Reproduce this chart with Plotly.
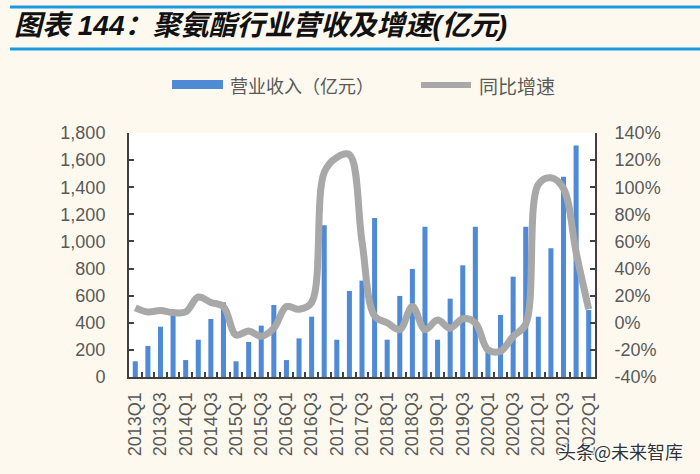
import plotly.graph_objects as go

# ---- data ----
quarters = [f"{y}Q{q}" for y in range(2013, 2022) for q in range(1, 5)] + ["2022Q1"]
revenue = [116, 229, 371, 489, 125, 275, 428, 551, 116, 258, 379, 531,
           125, 285, 445, 1119, 275, 635, 711, 1173, 275, 598, 797, 1109,
           275, 578, 824, 1109, 220, 458, 740, 1109, 445, 950, 1478, 1707, 494]
growth = [11, 8, 9, 7.5, 8, 19, 15, 12, -9, -6, -10, -4,
          12, 10, 15, 111, 122, 124, 60, 5, 0, -5, 12, -5,
          2, -4, 3, 0, -20, -21, -10, -1, 102, 107, 99, 52, 10]
left_ticks = list(range(0, 1801, 200))
right_ticks = list(range(-40, 141, 20))
right_tick_labels = [f"{v}%" for v in right_ticks]
tick_labels = quarters[::2]

title_text = "图表 144：聚氨酯行业营收及增速(亿元)"
legend_bar = "营业收入（亿元）"
legend_line = "同比增速"
watermark = "头条@未来智库"

# ---- styling ----
W, H = 700, 474
L, R, T, B = 129, 105, 133, 97
BAR_C = "#4F8AD6"
LINE_C = "#A8A8A8"
AXIS_C = "#404040"
TXT_C = "#595959"
BG = "#FEF9EF"
BLUE = "#1A9AE0"
LATIN = "Liberation Sans, Arial, Noto Sans CJK SC"
CJK = "Noto Sans CJK SC, Liberation Sans"

pw, ph = W - L - R, H - T - B
def px(x):
    return (x - L) / pw
def py(y):
    return (H - B - y) / ph

xs = list(range(len(quarters)))

fig = go.Figure()
fig.add_trace(go.Bar(x=xs, y=revenue, marker=dict(color=BAR_C, line=dict(width=0)),
                     name=legend_bar, showlegend=False))
fig.add_trace(go.Scatter(x=xs, y=growth, yaxis="y2", mode="lines",
                         line=dict(color=LINE_C, width=7, shape="spline", smoothing=1),
                         name=legend_line, showlegend=False))

tickfont = dict(family=LATIN, size=18, color=TXT_C)

fig.update_layout(
    width=W, height=H, autosize=False,
    margin=dict(l=L, r=R, t=T, b=B),
    paper_bgcolor=BG, plot_bgcolor="white",
    bargap=0.6,
    xaxis=dict(range=[-0.5, len(quarters) - 0.5], tickmode="array",
               tickvals=xs[::2], ticktext=tick_labels, tickangle=-90,
               ticks="", tickfont=tickfont, showline=True, linecolor=AXIS_C,
               linewidth=2, showgrid=False, zeroline=False, ticklabelstandoff=6,
               minor=dict(tickmode="array", tickvals=[i - 0.5 for i in range(1, len(quarters))],
                          ticks="inside", ticklen=5, tickwidth=2, tickcolor=AXIS_C, showgrid=False)),
    yaxis=dict(range=[0, 1800], tickmode="array", tickvals=left_ticks,
               tickformat=",", ticks="inside", ticklen=5, tickwidth=2, tickcolor=AXIS_C,
               showline=True, linecolor=AXIS_C, linewidth=2, showgrid=False,
               zeroline=False, tickfont=tickfont, ticklabelstandoff=18),
    yaxis2=dict(range=[-40, 140], tickmode="array", tickvals=right_ticks,
                ticktext=right_tick_labels, overlaying="y", side="right",
                ticks="inside", ticklen=5, tickwidth=2, tickcolor=AXIS_C,
                showline=True, linecolor=AXIS_C, linewidth=2, showgrid=False,
                zeroline=False, tickfont=tickfont, ticklabelstandoff=14),
    shapes=[
        dict(type="line", xref="paper", yref="paper", x0=px(10), x1=px(700), y0=py(7), y1=py(7),
             line=dict(color=BLUE, width=3)),
        dict(type="line", xref="paper", yref="paper", x0=px(10), x1=px(700), y0=py(49), y1=py(49),
             line=dict(color=BLUE, width=3)),
        dict(type="rect", xref="paper", yref="paper", x0=px(172), x1=px(223), y0=py(89), y1=py(80),
             fillcolor=BAR_C, line=dict(width=0)),
        dict(type="line", xref="paper", yref="paper", x0=px(421), x1=px(471), y0=py(85), y1=py(85),
             line=dict(color=LINE_C, width=6)),
    ],
    annotations=[
        dict(text="<b><i>" + title_text + "</i></b>", xref="paper", yref="paper",
             x=px(12), y=py(26), xanchor="left", yanchor="middle", showarrow=False,
             font=dict(family=LATIN, size=28, color="#111111")),
        dict(text=legend_bar, xref="paper", yref="paper", x=px(228), y=py(85),
             xanchor="left", yanchor="middle", showarrow=False,
             font=dict(family=CJK, size=18, color=TXT_C)),
        dict(text=legend_line, xref="paper", yref="paper", x=px(477), y=py(85),
             xanchor="left", yanchor="middle", showarrow=False,
             font=dict(family=CJK, size=19, color=TXT_C)),
        dict(text=watermark, xref="paper", yref="paper", x=px(556), y=py(451),
             xanchor="left", yanchor="middle", showarrow=False,
             font=dict(family=CJK, size=18, color="#333333",
                       shadow="1px 1px 1px white, -1px -1px 1px white, 1px -1px 1px white, -1px 1px 1px white")),
    ],
)

fig.write_html("out.html")
